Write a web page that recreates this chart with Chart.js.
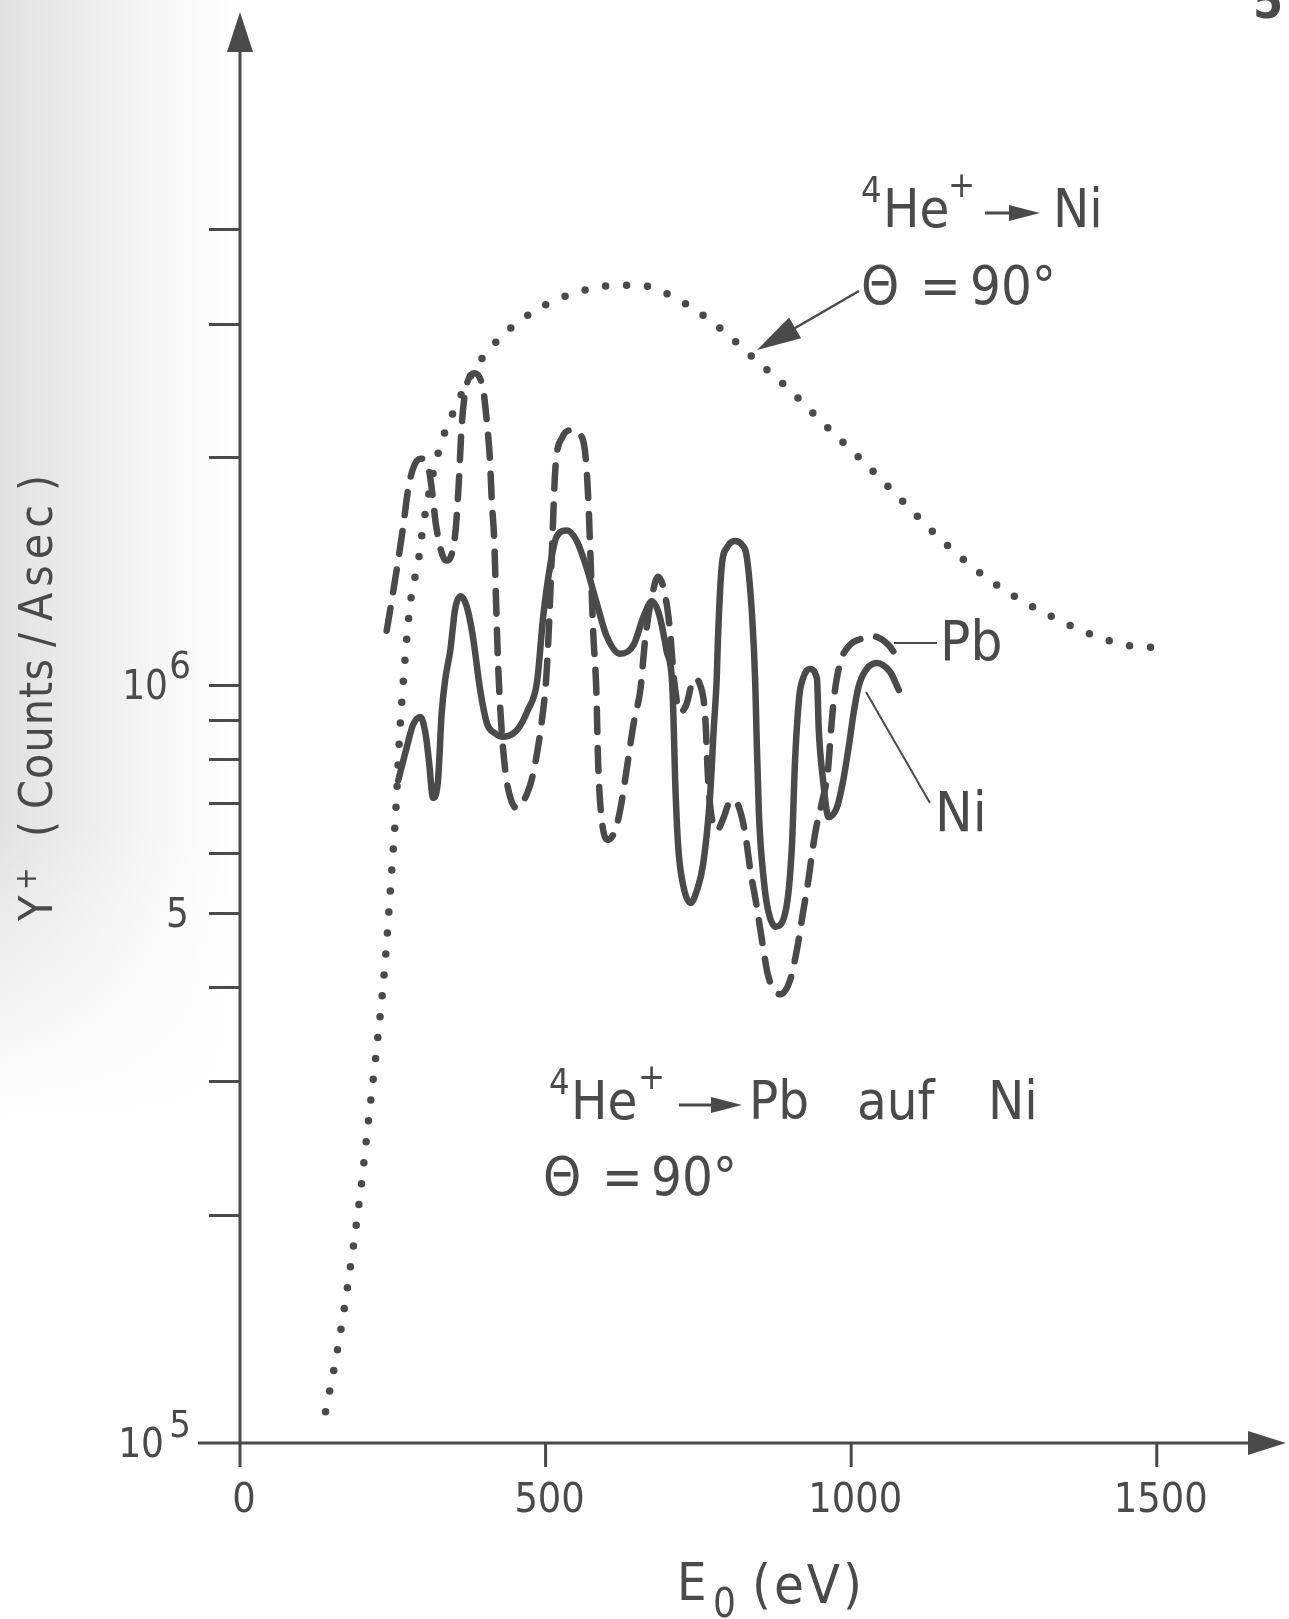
<!DOCTYPE html>
<html>
<head>
<meta charset="utf-8">
<title>Y+ (Counts/Asec) vs E0</title>
<script src="https://cdn.jsdelivr.net/npm/chart.js@4.4.1/dist/chart.umd.min.js"></script>
<style>
  html, body { margin: 0; padding: 0; background: #fff; }
  canvas { display: block; }
</style>
</head>
<body>
<canvas id="chart" width="1289" height="1619"></canvas>
<script>
(() => {
  'use strict';

  /* ── Data ───────────────────────────────────────────────── */
  // 4He+ -> Ni, theta = 90 deg (dotted curve)
  const refE = [140, 159, 178, 197, 211, 224, 237, 247, 255, 261, 269, 278, 293, 300, 324, 354, 385, 429, 483, 552,
                617, 653, 719, 785, 845, 900, 953, 1012, 1072, 1142, 1204, 1267, 1330, 1389, 1448, 1506];
  const refY = [1.10e5, 1.32e5, 1.65e5, 2.14e5, 2.70e5, 3.34e5, 4.26e5, 5.51e5, 6.84e5, 8.54e5, 1.056e6, 1.27e6,
                1.48e6, 1.63e6, 2.02e6, 2.34e6, 2.62e6, 2.89e6, 3.12e6, 3.30e6, 3.37e6, 3.37e6, 3.22e6, 2.96e6,
                2.68e6, 2.45e6, 2.22e6, 2.00e6, 1.79e6, 1.57e6, 1.42e6, 1.31e6, 1.23e6, 1.17e6, 1.13e6, 1.12e6];

  // 4He+ -> Pb auf Ni, Pb signal (dashed curve)
  const pbE = [240, 248, 257, 267, 275, 283, 295, 308, 314, 321, 337, 352, 358, 362, 367, 383, 398, 404, 409, 412,
               416, 419, 422, 427, 434, 442, 453, 470, 478, 486, 494, 501, 506, 511, 516, 527, 543, 560, 566, 570,
               573, 578, 583, 586, 591, 602, 614, 622, 630, 638, 645, 655, 663, 674, 684, 696, 704, 710, 720, 730,
               743, 753, 761, 766, 773, 781, 791, 800, 809, 818, 827, 835, 845, 854, 864, 884, 900, 912, 921, 930,
               936, 943, 953, 962, 967, 972, 982, 998, 1015, 1036, 1061, 1075];
  const pbY = [1.18e6, 1.29e6, 1.43e6, 1.62e6, 1.81e6, 1.93e6, 1.99e6, 1.94e6, 1.81e6, 1.62e6, 1.46e6, 1.58e6,
               1.85e6, 2.15e6, 2.39e6, 2.58e6, 2.45e6, 2.22e6, 1.98e6, 1.75e6, 1.55e6, 1.29e6, 1.08e6, 8.99e5,
               7.72e5, 7.12e5, 6.88e5, 7.20e5, 7.54e5, 8.13e5, 8.99e5, 1.02e6, 1.22e6, 1.55e6, 1.93e6, 2.12e6,
               2.17e6, 2.12e6, 1.98e6, 1.75e6, 1.51e6, 1.17e6, 9.85e5, 7.89e5, 6.74e5, 6.25e5, 6.44e5, 6.84e5,
               7.49e5, 8.28e5, 8.99e5, 9.85e5, 1.15e6, 1.31e6, 1.39e6, 1.31e6, 1.17e6, 1.02e6, 9.21e5, 9.41e5,
               1.02e6, 1.00e6, 9.13e5, 7.49e5, 6.60e5, 6.44e5, 6.68e5, 6.99e5, 7.05e5, 6.84e5, 6.34e5, 5.70e5,
               5.13e5, 4.61e5, 4.14e5, 3.91e5, 4.08e5, 4.51e5, 5.00e5, 5.53e5, 6.00e5, 6.50e5, 7.05e5, 7.72e5,
               8.72e5, 9.64e5, 1.07e6, 1.13e6, 1.15e6, 1.16e6, 1.13e6, 1.09e6];

  // 4He+ -> Pb auf Ni, Ni signal (solid curve)
  const niE = [259, 273, 283, 295, 304, 309, 316, 324, 330, 336, 344, 352, 361, 371, 381, 393, 404, 417, 431, 453,
               471, 486, 496, 507, 518, 535, 551, 567, 584, 600, 622, 644, 660, 674, 687, 698, 707, 709, 712, 717,
               725, 737, 748, 758, 769, 775, 780, 782, 788, 797, 810, 822, 829, 838, 843, 845, 849, 857, 864, 876,
               892, 903, 908, 915, 921, 932, 944, 947, 954, 963, 977, 987, 996, 1004, 1012, 1025, 1042, 1064, 1078];
  const niY = [7.49e5, 8.29e5, 8.86e5, 9.08e5, 8.59e5, 7.96e5, 7.10e5, 7.49e5, 9.19e5, 1.02e6, 1.11e6, 1.26e6,
               1.31e6, 1.27e6, 1.16e6, 9.85e5, 8.91e5, 8.64e5, 8.55e5, 8.72e5, 9.27e5, 1.01e6, 1.23e6, 1.43e6,
               1.57e6, 1.60e6, 1.55e6, 1.43e6, 1.28e6, 1.16e6, 1.10e6, 1.13e6, 1.23e6, 1.29e6, 1.23e6, 1.11e6,
               1.01e6, 9.19e5, 7.49e5, 6.12e5, 5.45e5, 5.16e5, 5.37e5, 5.82e5, 7.12e5, 8.72e5, 1.02e6, 1.15e6,
               1.43e6, 1.52e6, 1.55e6, 1.53e6, 1.48e6, 1.23e6, 1.01e6, 8.72e5, 6.78e5, 5.53e5, 5.05e5, 4.80e5,
               5.00e5, 6.12e5, 7.89e5, 9.65e5, 1.02e6, 1.05e6, 1.02e6, 8.72e5, 7.49e5, 6.70e5, 6.91e5, 7.49e5,
               8.29e5, 9.19e5, 9.95e5, 1.05e6, 1.07e6, 1.04e6, 9.85e5];

  /* ── Axes ───────────────────────────────────────────────── */
  const xRange  = [0, 1700];
  const yRange  = [1e5, 7.5e6];
  const xTicks  = [0, 500, 1000, 1500];
  const yMinor  = [2e5, 3e5, 4e5, 5e5, 6e5, 7e5, 8e5, 9e5, 2e6, 3e6, 4e6];

  const INK  = '#4a4a4a';
  const FONT = "'DejaVu Sans Condensed', 'DejaVu Sans', sans-serif";

  const pts  = (xs, ys) => xs.map((x, i) => ({ x, y: ys[i] }));
  const font = (px, weight) => (weight ? weight + ' ' : '') + px + 'px ' + FONT;

  /* ── Drawing helpers ───────────────────────────────────── */
  function arrowHead(ctx, x1, y1, x2, y2, len, half) {
    const a = Math.atan2(y2 - y1, x2 - x1);
    const c = Math.cos(a), s = Math.sin(a);
    ctx.beginPath();
    ctx.moveTo(x2, y2);
    ctx.lineTo(x2 - len * c + half * s, y2 - len * s - half * c);
    ctx.lineTo(x2 - len * c - half * s, y2 - len * s + half * c);
    ctx.closePath();
    ctx.fill();
  }

  function txt(ctx, s, x, y, px, align) {
    ctx.font = font(px);
    ctx.textAlign = align || 'left';
    ctx.fillText(s, x, y);
  }

  // spreads a word so that it spans a given width
  function fitText(ctx, s, x, y, px, width) {
    ctx.font = font(px);
    ctx.textAlign = 'left';
    ctx.letterSpacing = '0px';
    const w = ctx.measureText(s).width;
    const ls = s.length > 1 ? Math.max(0, (width - w) / (s.length - 1)) : 0;
    ctx.letterSpacing = ls + 'px';
    ctx.fillText(s, x, y);
    ctx.letterSpacing = '0px';
  }

  // small "→" used inside the reaction labels
  function reactionArrow(ctx, x1, x2, y) {
    ctx.lineWidth = 3;
    ctx.beginPath();
    ctx.moveTo(x1, y);
    ctx.lineTo(x2 - 20, y);
    ctx.stroke();
    arrowHead(ctx, x1, y, x2, y, 31, 8);
  }

  /* ── Plugins ───────────────────────────────────────────── */
  const paper = {
    id: 'paper',
    beforeDraw(chart) {
      const { ctx, width, height } = chart;
      ctx.save();
      ctx.fillStyle = '#fff';
      ctx.fillRect(0, 0, width, height);

      // grey shading along the left margin of the scanned sheet
      const g = ctx.createLinearGradient(0, 0, 240, 0);
      g.addColorStop(0, 'rgba(120,120,120,0.22)');
      g.addColorStop(0.6, 'rgba(120,120,120,0.08)');
      g.addColorStop(1, 'rgba(120,120,120,0)');
      ctx.fillStyle = g;
      ctx.fillRect(0, 0, 240, 1150);
      const v = ctx.createLinearGradient(0, 820, 0, 1120);
      v.addColorStop(0, 'rgba(255,255,255,0)');
      v.addColorStop(1, 'rgba(255,255,255,1)');
      ctx.fillStyle = v;
      ctx.fillRect(0, 820, 240, 330);
      ctx.restore();
    }
  };

  const axes = {
    id: 'axes',
    beforeDatasetsDraw(chart) {
      const { ctx, scales: { x, y } } = chart;
      const x0 = x.getPixelForValue(xRange[0]);
      const y0 = y.getPixelForValue(yRange[0]);

      ctx.save();
      ctx.strokeStyle = INK;
      ctx.fillStyle = INK;
      ctx.lineWidth = 3;

      // axis lines with arrow heads
      ctx.beginPath();
      ctx.moveTo(x0, y0 + 24);
      ctx.lineTo(x0, 40);
      ctx.moveTo(198, y0);
      ctx.lineTo(1255, y0);
      ctx.stroke();
      arrowHead(ctx, x0, 200, x0, 12, 40, 13);
      arrowHead(ctx, 1100, y0, 1286, y0, 38, 12);

      // y ticks
      ctx.beginPath();
      [yRange[0] * 10].concat(yMinor).forEach(v => {
        const py = Math.round(y.getPixelForValue(v)) + 0.5;
        ctx.moveTo(x0 - 31, py);
        ctx.lineTo(x0, py);
      });
      // x ticks
      xTicks.slice(1).forEach(v => {
        const px = x.getPixelForValue(v);
        ctx.moveTo(px, y0);
        ctx.lineTo(px, y0 + 24);
      });
      ctx.stroke();

      // tick labels
      ctx.textBaseline = 'alphabetic';
      xTicks.forEach(v => txt(ctx, String(v), x.getPixelForValue(v) + 4, 1512, 41, 'center'));

      const p6 = y.getPixelForValue(1e6);
      const p5 = y.getPixelForValue(1e5);
      txt(ctx, '10', 168, p6 + 14, 40, 'right');
      txt(ctx, '6', 191, p6 - 7, 38, 'right');
      txt(ctx, '10', 164, p5 + 14, 40, 'right');
      txt(ctx, '5', 191, p5 - 6, 38, 'right');
      txt(ctx, '5', 189, y.getPixelForValue(5e5) + 14, 40, 'right');

      // x title: E0 (eV)
      txt(ctx, 'E', 677, 1600, 52);
      txt(ctx, '0', 713, 1617, 40);
      fitText(ctx, '(eV)', 752, 1603, 54, 110);

      // y title, rotated: Y+ (Counts/Asec)
      ctx.translate(52, 921);
      ctx.rotate(-Math.PI / 2);
      txt(ctx, 'Y', 0, 0, 46);
      txt(ctx, '+', 31, -16, 30);
      txt(ctx, '(', 84, 0, 46);
      fitText(ctx, 'Counts', 112, 0, 46, 150);
      txt(ctx, '/', 274, 0, 46);
      fitText(ctx, 'Asec', 300, 0, 46, 116);
      txt(ctx, ')', 430, 0, 46);
      ctx.restore();
    }
  };

  const notes = {
    id: 'notes',
    afterDatasetsDraw(chart) {
      const { ctx } = chart;
      ctx.save();
      ctx.fillStyle = INK;
      ctx.strokeStyle = INK;
      ctx.textBaseline = 'alphabetic';

      // page number, cut by the top edge
      ctx.font = font(48, 'bold');
      ctx.textAlign = 'left';
      ctx.fillText('5', 1253, 18);

      // 4He+ -> Ni, theta = 90 deg
      txt(ctx, '4', 861, 202, 36);
      txt(ctx, 'He', 883, 227, 54);
      txt(ctx, '+', 948, 197, 36);
      reactionArrow(ctx, 985, 1040, 213);
      txt(ctx, 'Ni', 1053, 227, 54);
      txt(ctx, '\u0398', 861, 304, 54);
      txt(ctx, '=', 920, 304, 54);
      txt(ctx, '90\u00b0', 970, 304, 54);

      // pointer onto the dotted curve
      ctx.lineWidth = 2.5;
      ctx.beginPath();
      ctx.moveTo(859, 291);
      ctx.lineTo(790, 331);
      ctx.stroke();
      arrowHead(ctx, 859, 291, 757, 350, 44, 12);

      // 4He+ -> Pb auf Ni, theta = 90 deg
      txt(ctx, '4', 549, 1094, 36);
      txt(ctx, 'He', 571, 1119, 54);
      txt(ctx, '+', 638, 1089, 36);
      reactionArrow(ctx, 679, 742, 1105);
      txt(ctx, 'Pb', 749, 1119, 54);
      txt(ctx, 'auf', 857, 1119, 54);
      txt(ctx, 'Ni', 988, 1119, 54);
      txt(ctx, '\u0398', 543, 1195, 54);
      txt(ctx, '=', 602, 1195, 54);
      txt(ctx, '90\u00b0', 651, 1195, 54);

      // curve labels
      ctx.lineWidth = 2;
      ctx.beginPath();
      ctx.moveTo(894, 643);
      ctx.lineTo(937, 643);
      ctx.moveTo(866, 692);
      ctx.lineTo(930, 803);
      ctx.stroke();
      txt(ctx, 'Pb', 940, 660, 56);
      txt(ctx, 'Ni', 935, 831, 56);
      ctx.restore();
    }
  };

  /* ── Chart ─────────────────────────────────────────────── */
  const curve = {
    pointRadius: 0,
    pointHoverRadius: 0,
    fill: false,
    borderColor: INK,
    cubicInterpolationMode: 'monotone',
    borderCapStyle: 'round',
    borderJoinStyle: 'round',
  };

  new Chart(document.getElementById('chart'), {
    type: 'line',
    data: {
      datasets: [
        { ...curve, label: 'Ni', data: pts(niE, niY), borderWidth: 6.5 },
        { ...curve, label: 'Pb', data: pts(pbE, pbY), borderWidth: 6.5, borderDash: [23, 16] },
        { ...curve, label: '4He+ -> Ni', data: pts(refE, refY), borderWidth: 7.5, borderDash: [0, 21] },
      ],
    },
    options: {
      responsive: false,
      devicePixelRatio: 1,
      animation: false,
      events: [],
      layout: { padding: { left: 240, right: 10, top: 22, bottom: 176 } },
      plugins: { legend: { display: false }, tooltip: { enabled: false } },
      scales: {
        x: { type: 'linear', min: xRange[0], max: xRange[1], display: false },
        y: { type: 'logarithmic', min: yRange[0], max: yRange[1], display: false },
      },
    },
    plugins: [paper, axes, notes],
  });
})();
</script>
</body>
</html>
